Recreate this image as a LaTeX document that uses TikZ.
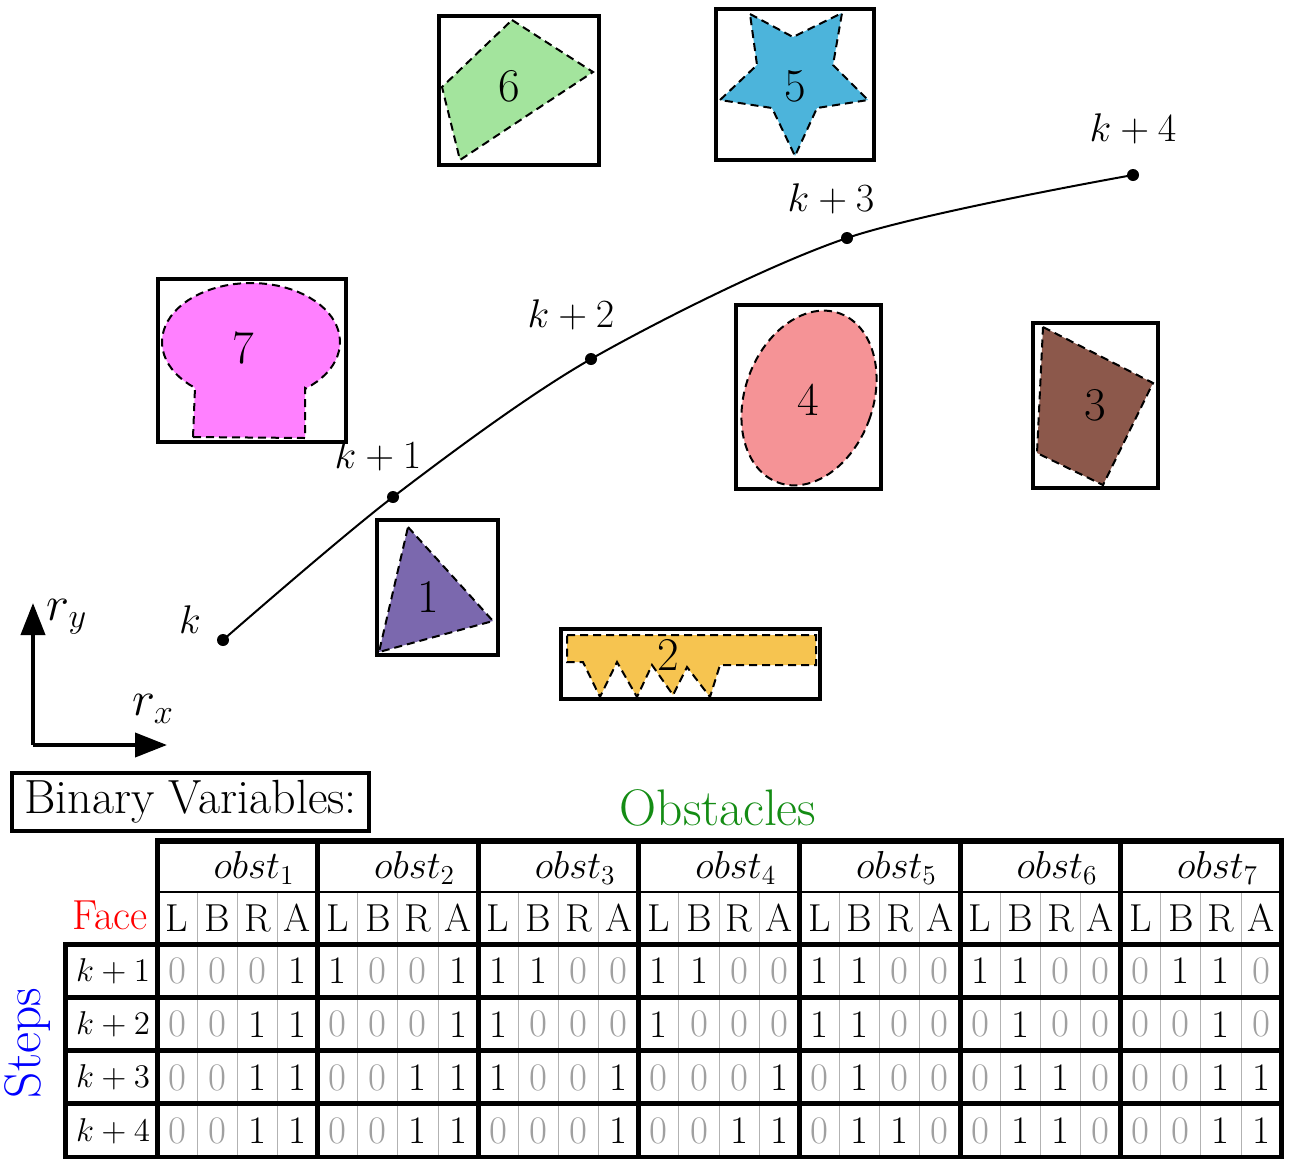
\RequirePackage{fix-cm}
\documentclass[tikz,border=0pt]{standalone}
\usepackage{xcolor}
\usetikzlibrary{arrows.meta}

\definecolor{obstpurple}{RGB}{123,104,174}
\definecolor{obstgold}{RGB}{246,196,80}
\definecolor{obstbrown}{RGB}{140,88,75}
\definecolor{obstsalmon}{RGB}{245,147,150}
\definecolor{obstsky}{RGB}{76,180,219}
\definecolor{obstmint}{RGB}{163,228,157}
\definecolor{obstpink}{RGB}{255,128,255}
\definecolor{zerogray}{RGB}{160,160,160}
\definecolor{titlegreen}{RGB}{20,140,20}

\newcommand{\bit}[1]{\ifnum#1=0 \textcolor{zerogray}{0}\else 1\fi}

\tikzset{
  obsbox/.style={line width=1.6pt},
  obsfill/.style={draw=black, line width=1pt, dash pattern=on 4pt off 2.5pt},
  obslabel/.style={font=\fontsize{23.5}{28}\selectfont, inner sep=0pt},
  trajlabel/.style={font=\fontsize{20}{24}\selectfont, inner sep=0pt},
  rowlabel/.style={font=\fontsize{16.5}{20}\selectfont, inner sep=0pt},
  cell/.style={font=\fontsize{19.5}{23}\selectfont, inner sep=0pt},
  heavy/.style={line width=2.5pt},
  light/.style={line width=0.5pt, gray!60},
}

\begin{document}
\begin{tikzpicture}[x=0.5pt, y=-0.5pt]
\useasboundingbox (0,0) rectangle (1290,1158);

% Trajectory
\coordinate (p0) at (223,640);
\coordinate (p1) at (393,497);
\coordinate (p2) at (591,359);
\coordinate (p3) at (847,238);
\coordinate (p4) at (1133,175);
\draw[line width=1pt] plot[smooth] coordinates {(p0) (p1) (p2) (p3) (p4)};
\foreach \p in {p0,p1,p2,p3,p4} \fill (\p) circle (3pt);
\node[trajlabel] (lk0) at (190,620) {$k$};
\node[trajlabel] (lk1) at (378,456) {$k+1$};
\node[trajlabel] (lk2) at (571,315) {$k+2$};
\node[trajlabel] (lk3) at (831,199) {$k+3$};
\node[trajlabel] (lk4) at (1133,129) {$k+4$};

% Obstacle 1
\filldraw[obsfill, fill=obstpurple] (408,527) -- (493,621) -- (379,652) -- cycle;
\draw[obsbox] (377,520) rectangle (498,655);
\node[obslabel] (o1) at (428,597) {1};

% Obstacle 2
\filldraw[obsfill, fill=obstgold] (567,635) -- (816,635) -- (816,665) -- (720,665)
  -- (710,697) -- (687,667) -- (673,695) -- (652,665) -- (637,697) -- (617,662)
  -- (600,697) -- (583,662) -- (567,662) -- cycle;
\draw[obsbox] (561,629) rectangle (820,699);
\node[obslabel] (o2) at (668,655) {2};

% Obstacle 3
\filldraw[obsfill, fill=obstbrown] (1043,327) -- (1153,383) -- (1103,485) -- (1037,453) -- cycle;
\draw[obsbox] (1033,323) rectangle (1158,488);
\node[obslabel] (o3) at (1095,405) {3};

% Obstacle 4
\filldraw[obsfill, fill=obstsalmon, rotate around={-20:(809,398)}] (809,398) ellipse [x radius=32pt, y radius=45pt];
\draw[obsbox] (736,305) rectangle (881,489);
\node[obslabel] (o4) at (808,400) {4};

% Obstacle 5
\filldraw[obsfill, fill=obstsky] (750,14) -- (793,37) -- (842,13) -- (833,65) -- (868,100)
  -- (817,108) -- (795,156) -- (772,108) -- (720,100) -- (757,65) -- cycle;
\draw[obsbox] (716,9) rectangle (874,160);
\node[obslabel] (o5) at (795,86) {5};

% Obstacle 6
\filldraw[obsfill, fill=obstmint] (512,20) -- (593,72) -- (460,160) -- (442,87) -- cycle;
\draw[obsbox] (439,16) rectangle (599,165);
\node[obslabel] (o6) at (509,86) {6};

% Obstacle 7
\filldraw[obsfill, fill=obstpink] (193,437) -- (305,438) -- (305,388)
  -- plot[domain=-52:231, samples=60] ({251+89*cos(\x)}, {342-59*sin(\x)}) -- cycle;
\draw[obsbox] (158,279) rectangle (346,442);
\node[obslabel] (o7) at (243,348) {7};

% Axes
\coordinate (origin) at (33,745);
\coordinate (ry) at (33,603);
\coordinate (rx) at (167,745);
\draw[line width=2pt, -{Triangle[length=16pt, width=12pt]}] (origin) -- (ry);
\draw[line width=2pt, -{Triangle[length=16pt, width=12pt]}] (origin) -- (rx);
\node[font=\fontsize{24.5}{29}\selectfont, inner sep=0pt] (lry) at (67,617) {$r_y$};
\node[font=\fontsize{24.5}{29}\selectfont, inner sep=0pt] (lrx) at (153,709) {$r_x$};

% Titles
\node[draw, line width=1.6pt, minimum width=178.5pt, minimum height=29pt, inner sep=0pt,
  font=\fontsize{24}{28}\selectfont] (binary) at (190.5,802) {Binary Variables:};
\node[font=\fontsize{25.7}{30}\selectfont, text=titlegreen, inner sep=0pt] (obstacles) at (718,808) {Obstacles};
\node[font=\fontsize{21}{25}\selectfont, text=red, inner sep=0pt] (face) at (110,915) {Face};
\node[font=\fontsize{25.7}{30}\selectfont, text=blue, rotate=90, inner sep=0pt] (steps) at (28,1043) {Steps};

% Table grid
\foreach \g in {0,...,6}
  \foreach \j in {1,2,3}
    \draw[light] ({157+160.6*\g+40.15*\j},892) -- ++(0,270);
\draw[line width=3pt] (155.75,841) -- (1282.45,841);
\draw[line width=1.2pt] (157,892) -- (1281,892);
\foreach \y in {944,997,1050,1103,1157}
  \draw[heavy] (63.75,\y) -- (1282.45,\y);
\foreach \g in {0,...,7}
  \draw[heavy] ({157+160.6*\g},838) -- ++(0,324);
\draw[heavy] (65,942) -- (65,1162);

% Table headers
\foreach \g in {1,...,7}
  \node[cell] (obst\g) at ({157+160.6*(\g-1)+97},868) {$obst_{\g}$};
\foreach \g in {0,...,6}
  \foreach \f [count=\j from 0] in {L,B,R,A}
    \node[cell] (f-\g-\j) at ({177+160.6*\g+40.15*\j},918) {\f};

% Table values
\foreach \row [count=\r from 1] in {
  {0,0,0,1, 1,0,0,1, 1,1,0,0, 1,1,0,0, 1,1,0,0, 1,1,0,0, 0,1,1,0},
  {0,0,1,1, 0,0,0,1, 1,0,0,0, 1,0,0,0, 1,1,0,0, 0,1,0,0, 0,0,1,0},
  {0,0,1,1, 0,0,1,1, 1,0,0,1, 0,0,0,1, 0,1,0,0, 0,1,1,0, 0,0,1,1},
  {0,0,1,1, 0,0,1,1, 0,0,0,1, 0,0,1,1, 0,1,1,0, 0,1,1,0, 0,0,1,1}} {
  \node[rowlabel] (s\r) at (113,{971+53.3*(\r-1)}) {$k+\r$};
  \foreach \v [count=\i from 0] in \row
    \node[cell] (b-\r-\i) at ({177+40.15*\i},{971+53.3*(\r-1)}) {\bit{\v}};
}
\end{tikzpicture}
\end{document}
